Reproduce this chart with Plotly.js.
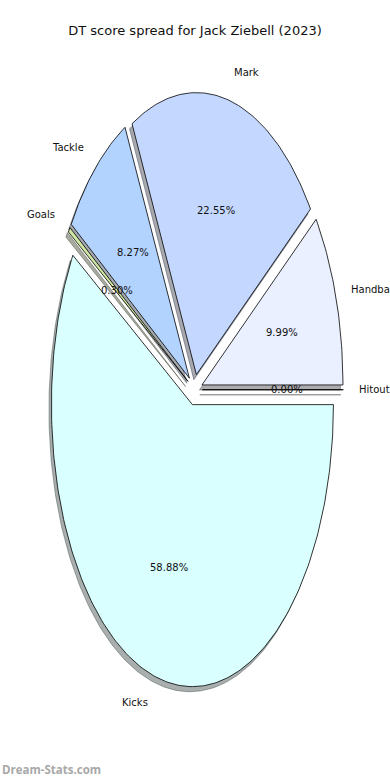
<!DOCTYPE html>
<html>
<head>
<meta charset="utf-8">
<script src="https://cdn.plot.ly/plotly-3.0.1.min.js"></script>
<style>html,body{margin:0;padding:0;background:#fff;}#chart{width:390px;height:780px;}</style>
</head>
<body>
<div id="chart"></div>
<script>
// Data (clockwise from 3 o'clock)
var categories = ["Kicks", "Goals", "Tackle", "Mark", "Handball", "Hitout"];
var percentValues = [58.88, 0.30, 8.27, 22.55, 9.99, 0.00];
var sliceColors = ["#d9ffff", "#cfe6a2", "#b3d3ff", "#c4d8ff", "#eaf0ff", "#f4f4f4"];
var chartTitle = "DT score spread for Jack Ziebell (2023)";
var watermark = "Dream-Stats.com";

var explode = 0.055;
var labelDist = 1.1, pctDist = 0.6;
var total = percentValues.reduce(function(a, b){ return a + b; }, 0);

var traces = [], shadowTraces = [], annotations = [];
var angle = 0;
var geo = [];
for (var i = 0; i < categories.length; i++) {
  var span = percentValues[i] / total * 360;
  var a1 = angle - span, a2 = angle;
  var mid = (a1 + a2) / 2 * Math.PI / 180;
  var cx = explode * Math.cos(mid), cy = explode * Math.sin(mid);
  var xs = [cx], ys = [cy];
  var steps = Math.max(2, Math.ceil(span / 1));
  for (var s = 0; s <= steps; s++) {
    var t = (a1 + (a2 - a1) * s / steps) * Math.PI / 180;
    xs.push(cx + Math.cos(t)); ys.push(cy + Math.sin(t));
  }
  xs.push(cx); ys.push(cy);
  geo.push({xs: xs, ys: ys, cx: cx, cy: cy, mid: mid});
  angle -= span;
}

function shade(hex) {
  var r = parseInt(hex.substr(1,2),16), g = parseInt(hex.substr(3,2),16), b = parseInt(hex.substr(5,2),16);
  return "rgba(" + Math.round(r*0.3) + "," + Math.round(g*0.3) + "," + Math.round(b*0.3) + ",0.45)";
}

for (var i = 0; i < categories.length; i++) {
  var g = geo[i];
  shadowTraces.push({
    type: "scatter", mode: "lines", hoverinfo: "skip", showlegend: false,
    x: g.xs.map(function(v){ return v - 0.018; }),
    y: g.ys.map(function(v){ return v - 0.018; }),
    fill: "toself", fillcolor: shade(sliceColors[i]),
    line: {color: shade(sliceColors[i]), width: 1}
  });
  traces.push({
    type: "scatter", mode: "lines", hoverinfo: "skip", showlegend: false, name: categories[i],
    x: g.xs, y: g.ys, fill: "toself", fillcolor: sliceColors[i],
    line: {color: "#000000", width: 0.8}
  });
  var lx = g.cx + labelDist * Math.cos(g.mid), ly = g.cy + labelDist * Math.sin(g.mid);
  annotations.push({
    x: lx, y: ly, xref: "x", yref: "y", text: categories[i], showarrow: false,
    xanchor: Math.cos(g.mid) >= 0 ? "left" : "right", yanchor: "middle",
    font: {family: "DejaVu Sans", size: 10, color: "#111"}
  });
  annotations.push({
    x: g.cx + pctDist * Math.cos(g.mid), y: g.cy + pctDist * Math.sin(g.mid),
    xref: "x", yref: "y", text: percentValues[i].toFixed(2) + "%", showarrow: false,
    xanchor: "center", yanchor: "middle",
    font: {family: "DejaVu Sans", size: 10, color: "#111"}
  });
}

annotations.push({
  x: 0, y: 0, xref: "paper", yref: "paper", xanchor: "left", yanchor: "bottom",
  yshift: 1, text: "<b>" + watermark + "</b>", showarrow: false,
  font: {family: "Open Sans", size: 11.5, color: "#a8a8a8"}
});

var layout = {
  width: 390, height: 780,
  margin: {l: 0, r: 0, t: 0, b: 0},
  paper_bgcolor: "#ffffff", plot_bgcolor: "#ffffff",
  title: {text: chartTitle, x: 0.5, xanchor: "center", y: 1 - 30/780, yanchor: "middle",
          font: {family: "DejaVu Sans", size: 13, color: "#111"}},
  xaxis: {range: [-1.380, 1.386], visible: false, fixedrange: true},
  yaxis: {range: [-1.384, 1.382], visible: false, fixedrange: true},
  annotations: annotations,
  showlegend: false
};

Plotly.newPlot("chart", shadowTraces.concat(traces), layout, {displayModeBar: false, staticPlot: true});
</script>
</body>
</html>
